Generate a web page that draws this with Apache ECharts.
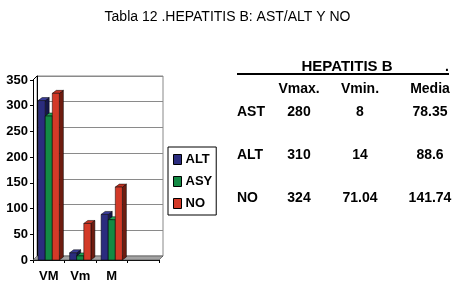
<!DOCTYPE html>
<html>
<head>
<meta charset="utf-8">
<script src="https://cdn.jsdelivr.net/npm/echarts@6/dist/echarts.min.js"></script>
<style>
html, body { margin: 0; padding: 0; background: #fff; }
#chart { width: 455px; height: 286px; }
</style>
</head>
<body>
<div id="chart"></div>
<script>
// chart data
var categories = ['VM', 'Vm', 'M', ''];
var altValues = [310, 14, 88.6];
var asyValues = [280, 8, 78.35];
var noValues = [324, 71.04, 141.74];

// table beside the chart
var tableTitle = 'HEPATITIS B';
var tableColumns = ['Vmax.', 'Vmin.', 'Media'];
var tableRows = ['AST', 'ALT', 'NO'];
var tableValues = [asyValues, altValues, noValues];

var seriesDefs = [
  { name: 'ALT', values: altValues, front: '#2b2c7e', side: '#15164a', top: '#3a3c98' },
  { name: 'ASY', values: asyValues, front: '#138a44', side: '#0a4e26', top: '#1fa456' },
  { name: 'NO', values: noValues, front: '#d33a28', side: '#6e1c10', top: '#c23222' }
];

var depthX = 4, depthY = 3, barShare = 0.225;
var fontFam = '"Liberation Sans", Arial, sans-serif';

function bar3d (idx, def) {
  return function (params, api) {
    var cat = api.value(0);
    var top = api.coord([cat, api.value(1)]);
    var base = api.coord([cat, 0]);
    var band = api.size([1, 0])[0];
    var w = band * barShare;
    var x0 = top[0] - 1.5 * w + idx * w;
    var x1 = x0 + w;
    var yt = top[1];
    var yb = base[1];
    var edge = { stroke: '#000', lineWidth: 0.5 };
    return {
      type: 'group',
      children: [
        { type: 'polygon', shape: { points: [[x1, yb], [x1 + depthX, yb - depthY], [x1 + depthX, yt - depthY], [x1, yt]] },
          style: Object.assign({ fill: def.side }, edge) },
        { type: 'polygon', shape: { points: [[x0, yt], [x0 + depthX, yt - depthY], [x1 + depthX, yt - depthY], [x1, yt]] },
          style: Object.assign({ fill: def.top }, edge) },
        { type: 'rect', shape: { x: x0, y: yt, width: w, height: yb - yt },
          style: Object.assign({ fill: def.front }, edge) }
      ]
    };
  };
}

var series = seriesDefs.map(function (def, i) {
  return {
    name: def.name,
    type: 'custom',
    xAxisIndex: 0,
    yAxisIndex: 0,
    itemStyle: { color: def.front },
    renderItem: bar3d(i, def),
    encode: { x: 0, y: 1 },
    data: def.values.map(function (v, c) { return [c, v]; })
  };
});

// table as text
var colX = [299, 360, 430];
var rowY = [112, 155, 198];
var tblFont = 'bold 14px ' + fontFam;
var graphics = [
  // floor of the 3d box
  { type: 'polygon', z: 1, shape: { points: [[33, 260], [159, 260], [163, 256], [37, 256]] },
    style: { fill: '#a3a3a3', stroke: '#444', lineWidth: 0.6 } },
  { type: 'line', z: 1, shape: { x1: 33, y1: 80, x2: 37, y2: 76 }, style: { stroke: '#000', lineWidth: 1 } },
  { type: 'text', x: 347, y: 67, style: { text: tableTitle, font: 'bold 15px ' + fontFam, fill: '#000', align: 'center', verticalAlign: 'middle' } },
  { type: 'text', x: 447, y: 67, style: { text: '.', font: tblFont, fill: '#000', align: 'center', verticalAlign: 'middle' } },
  { type: 'line', shape: { x1: 237, y1: 74, x2: 449, y2: 74 }, style: { stroke: '#000', lineWidth: 2 } }
];
tableColumns.forEach(function (h, c) {
  graphics.push({ type: 'text', x: colX[c], y: 89, style: { text: h, font: tblFont, fill: '#000', align: 'center', verticalAlign: 'middle' } });
});
tableRows.forEach(function (r, i) {
  graphics.push({ type: 'text', x: 237, y: rowY[i], style: { text: r, font: tblFont, fill: '#000', align: 'left', verticalAlign: 'middle' } });
  tableValues[i].forEach(function (v, c) {
    graphics.push({ type: 'text', x: colX[c], y: rowY[i], style: { text: String(v), font: tblFont, fill: '#000', align: 'center', verticalAlign: 'middle' } });
  });
});

var chart = echarts.init(document.getElementById('chart'), null, { renderer: 'canvas' });
chart.setOption({
  animation: false,
  backgroundColor: '#fff',
  title: {
    text: 'Tabla 12 .HEPATITIS B: AST/ALT Y NO',
    left: 'center',
    top: 5,
    textStyle: { fontFamily: fontFam, fontSize: 14, fontWeight: 'normal', color: '#000' }
  },
  legend: {
    orient: 'vertical',
    left: 168,
    top: 147,
    padding: [6, 4, 5, 5],
    borderColor: '#000',
    borderWidth: 1,
    itemWidth: 8,
    itemHeight: 10,
    itemGap: 9,
    icon: 'rect',
    itemStyle: { borderColor: '#000', borderWidth: 1 },
    textStyle: { fontFamily: fontFam, fontSize: 13, fontWeight: 'bold', color: '#000', padding: [0, 0, 0, -1] },
    data: seriesDefs.map(function (d) { return d.name; })
  },
  grid: [
    { left: 33, top: 80, width: 126, height: 180 },
    { left: 37, top: 76, width: 126, height: 180, show: true, borderColor: '#888', borderWidth: 1, backgroundColor: '#fff' }
  ],
  xAxis: [
    {
      type: 'category', gridIndex: 0, data: categories,
      axisLine: { lineStyle: { color: '#000', width: 1 } },
      axisTick: { show: true, length: 3, lineStyle: { color: '#000' } },
      axisLabel: { fontFamily: fontFam, fontSize: 13, fontWeight: 'bold', color: '#000', margin: 10 }
    },
    {
      type: 'category', gridIndex: 1, data: categories,
      axisLine: { show: false }, axisTick: { show: false }, axisLabel: { show: false }
    }
  ],
  yAxis: [
    {
      type: 'value', gridIndex: 0, min: 0, max: 350, interval: 50,
      axisLine: { show: true, lineStyle: { color: '#000', width: 1 } },
      axisTick: { show: true, length: 3, lineStyle: { color: '#000' } },
      splitLine: { show: false },
      axisLabel: { fontFamily: fontFam, fontSize: 13, fontWeight: 'bold', color: '#000', margin: 5 }
    },
    {
      type: 'value', gridIndex: 1, min: 0, max: 350, interval: 50,
      axisLine: { show: true, lineStyle: { color: '#000', width: 1 } },
      axisTick: { show: false },
      axisLabel: { show: false },
      splitLine: { show: true, lineStyle: { color: '#8a8a8a', width: 1 } }
    }
  ],
  graphic: graphics,
  series: series
});
</script>
</body>
</html>
